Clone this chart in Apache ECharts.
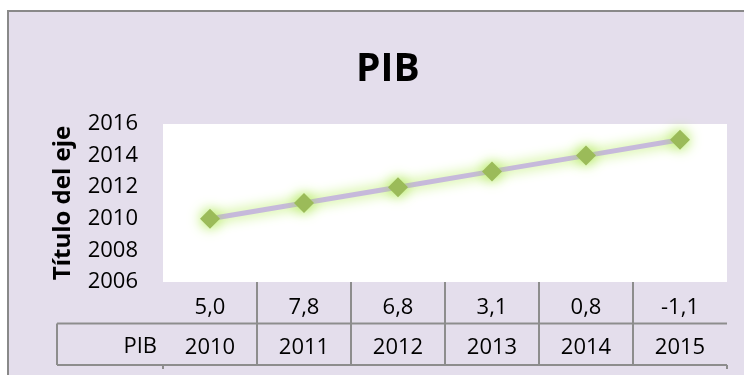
<!DOCTYPE html>
<html>
<head>
<meta charset="utf-8">
<script src="https://cdn.jsdelivr.net/npm/echarts@6/dist/echarts.min.js"></script>
<style>
  html, body { margin: 0; padding: 0; background: #ffffff; }
  #chart { width: 744px; height: 375px; }
</style>
</head>
<body>
<div id="chart"></div>
<script>
// Growth rates shown as category labels (first table row)
const categories = ['5,0', '7,8', '6,8', '3,1', '0,8', '-1,1'];
// PIB series values (second table row and plotted line)
const pibValues = [2010, 2011, 2012, 2013, 2014, 2015];
const seriesName = 'PIB';
const chartTitle = 'PIB';
const yAxisTitle = 'Título del eje';
const yMin = 2006, yMax = 2016, yStep = 2;

const FONT = 'Open Sans';
const LINE_GRAY = '#8d8d8d';
const ROW_H = 41.5;      // table row height
const LABEL_LH = 40;     // line height of the two label rows
const LABEL_SIZE = 22;

const chart = echarts.init(document.getElementById('chart'), null, { renderer: 'canvas' });

const option = {
  backgroundColor: '#ffffff',
  animation: false,
  title: {
    text: chartTitle,
    left: 351,
    top: 45,
    textStyle: { fontFamily: FONT, fontSize: 39, fontWeight: 'bold', color: '#000' }
  },
  grid: {
    left: 163, right: 17, top: 124, bottom: 93,
    show: true, backgroundColor: '#ffffff', borderWidth: 0,
    containLabel: false
  },
  xAxis: {
    type: 'category',
    data: categories,
    boundaryGap: true,
    axisLine: { show: false },
    axisTick: { show: false },
    splitLine: { show: false },
    axisLabel: {
      interval: 0,
      margin: 6,
      formatter: function (value, idx) {
        return '{a|' + value + '}\n{b|' + pibValues[idx] + '}';
      },
      rich: {
        a: { fontFamily: FONT, fontSize: LABEL_SIZE, color: '#000', lineHeight: LABEL_LH, align: 'center' },
        b: { fontFamily: FONT, fontSize: LABEL_SIZE, color: '#000', lineHeight: LABEL_LH, align: 'center' }
      }
    }
  },
  yAxis: {
    type: 'value',
    min: yMin, max: yMax, interval: yStep,
    name: yAxisTitle,
    nameLocation: 'middle',
    nameRotate: 90,
    nameGap: 88,
    nameTextStyle: { fontFamily: FONT, fontSize: 24, fontWeight: 'bold', color: '#000' },
    axisLine: { show: false },
    axisTick: { show: false },
    splitLine: { show: false },
    axisLabel: {
      fontFamily: FONT, fontSize: LABEL_SIZE, color: '#000', margin: 25,
      formatter: function (v) { return String(v); }
    }
  },
  series: [{
    name: seriesName,
    type: 'line',
    data: pibValues,
    symbol: 'diamond',
    symbolSize: 20,
    lineStyle: {
      color: '#c6b9db', width: 5,
      shadowColor: 'rgba(170,232,70,1)', shadowBlur: 13
    },
    itemStyle: {
      color: '#9bbb59',
      shadowColor: 'rgba(160,228,55,1)', shadowBlur: 14
    },
    emphasis: { disabled: true }
  }]
};

chart.setOption(option);

// Data table lines and row header, positioned from the axis scales
function buildTable() {
  const c0 = chart.convertToPixel({ xAxisIndex: 0 }, 0);
  const c1 = chart.convertToPixel({ xAxisIndex: 0 }, 1);
  const band = c1 - c0;
  const plotLeft = c0 - band / 2;
  const plotRight = plotLeft + band * categories.length;
  const axisY = chart.convertToPixel({ yAxisIndex: 0 }, yMin);
  const midY = axisY + ROW_H;
  const botY = axisY + ROW_H * 2;
  const tableLeft = 57;
  const ls = { stroke: LINE_GRAY, lineWidth: 2 };
  const els = [
    // chart area frame
    { type: 'rect', z: -10, shape: { x: 8, y: 11, width: 800, height: 420 },
      style: { fill: '#e4deec', stroke: '#898989', lineWidth: 2 } },
    { type: 'line', shape: { x1: tableLeft, y1: midY, x2: plotRight, y2: midY }, style: ls },
    { type: 'line', shape: { x1: tableLeft, y1: botY, x2: plotRight, y2: botY }, style: ls },
    { type: 'line', shape: { x1: tableLeft, y1: midY, x2: tableLeft, y2: botY }, style: ls },
    { type: 'line', shape: { x1: plotLeft, y1: botY, x2: plotLeft, y2: botY + 4 }, style: ls },
    { type: 'line', shape: { x1: plotRight, y1: botY, x2: plotRight, y2: botY + 4 }, style: ls },
    { type: 'text', x: plotLeft - 6, y: midY + ROW_H / 2 + 2,
      style: { text: seriesName, fontFamily: FONT, fontSize: LABEL_SIZE, fill: '#000',
               align: 'right', verticalAlign: 'middle' } }
  ];
  for (let i = 1; i < categories.length; i++) {
    const x = plotLeft + band * i;
    els.push({ type: 'line', shape: { x1: x, y1: axisY, x2: x, y2: botY }, style: ls });
  }
  chart.setOption({ graphic: els });
}
buildTable();
</script>
</body>
</html>
